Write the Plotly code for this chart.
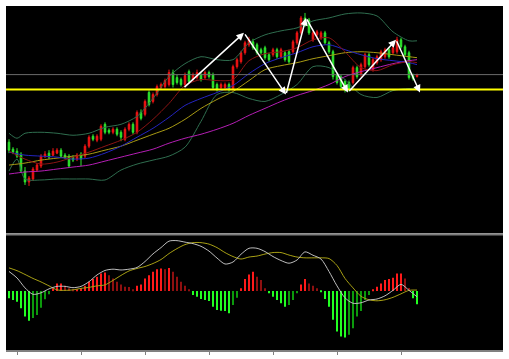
import plotly.graph_objects as go

# ---------------- data ----------------
candle_idx = list(range(103))
open_ = [97, 90, 88, 85, 68, 57, 60, 69, 73, 83, 86, 84, 86, 89, 84, 83, 82, 80, 85, 83,
         93, 103, 99, 100, 115, 109, 107, 110, 107, 100, 110, 115, 107, 127, 125, 147, 138, 145, 152, 153,
         155, 167, 162, 160, 155, 168, 160, 162, 165, 162, 167, 165, 155, 152, 152, 155, 150, 173, 178, 187,
         195, 198, 195, 190, 192, 185, 185, 190, 183, 187, 188, 188, 197, 207, 222, 220, 200, 205, 202, 207,
         197, 188, 165, 163, 158, 157, 157, 172, 165, 173, 185, 170, 177, 180, 183, 190, 187, 188, 200, 193,
         187, 164, 163]
close = [89, 87, 83, 68, 57, 61, 70, 74, 83, 85, 82, 88, 89, 83, 82, 73, 79, 84, 80, 93,
         102, 100, 103, 113, 107, 107, 110, 105, 102, 110, 115, 107, 127, 121, 138, 135, 145, 153, 155, 159,
         167, 155, 157, 155, 164, 158, 165, 167, 160, 167, 163, 152, 150, 155, 155, 150, 173, 180, 187, 197,
         200, 192, 187, 187, 182, 180, 190, 183, 190, 180, 178, 198, 207, 222, 215, 207, 207, 208, 207, 197,
         188, 163, 157, 153, 150, 150, 172, 163, 175, 185, 175, 180, 183, 188, 190, 183, 192, 200, 193, 185,
         162, 161, 165]
high = [100, 92, 91, 87, 72, 63, 72, 76, 85, 88, 89, 91, 91, 91, 86, 85, 84, 86, 87, 95,
        104, 105, 105, 115, 117, 111, 112, 112, 109, 112, 117, 117, 129, 130, 140, 149, 147, 155, 157, 161,
        170, 170, 165, 162, 167, 170, 167, 170, 167, 169, 169, 167, 157, 157, 157, 157, 175, 182, 189, 199,
        203, 201, 197, 192, 194, 187, 192, 192, 192, 189, 190, 200, 209, 224, 227, 222, 209, 210, 209, 209,
        199, 190, 167, 165, 160, 159, 174, 174, 177, 187, 187, 182, 185, 190, 192, 192, 194, 203, 202, 195,
        189, 166, 166]
low = [86, 85, 81, 66, 54, 53, 58, 67, 71, 81, 80, 83, 85, 81, 80, 71, 77, 78, 73, 81,
       91, 98, 97, 98, 105, 105, 105, 103, 98, 98, 108, 105, 105, 119, 123, 133, 136, 143, 150, 151,
       153, 152, 155, 153, 153, 156, 158, 160, 158, 160, 161, 150, 148, 150, 149, 148, 149, 171, 176, 185,
       193, 190, 185, 185, 180, 178, 183, 181, 181, 178, 176, 186, 195, 205, 213, 205, 198, 203, 200, 195,
       186, 160, 155, 150, 147, 148, 155, 161, 163, 171, 173, 168, 175, 178, 181, 181, 185, 186, 191, 183,
       160, 159, 162]

# Bollinger bands (bar index, price)
band_idx = [0, 2, 4, 8, 12, 16, 20, 24, 28, 32, 36, 40, 44, 48, 52, 56, 60, 64, 68, 72, 76,
            80, 84, 88, 92, 96, 100, 102]
boll_upper = [106, 101, 106, 107, 106, 104, 106, 112, 115, 123, 141, 163, 176, 183, 180, 180, 197, 205, 209, 212, 219,
              222, 226, 227, 224, 208, 199, 199]
boll_lower = [68, 80, 60, 59, 60, 60, 60, 59, 69, 75, 79, 83, 92, 118, 145, 147, 141, 138, 145, 155, 173,
              172, 160, 145, 142, 149, 151, 151]

# moving averages sampled every 4 bars
line_idx = [0, 4, 8, 12, 16, 20, 24, 28, 32, 36, 40, 44, 48, 52, 56, 60, 64, 68, 72, 76,
            80, 84, 88, 92, 96, 100, 102]
ma_short = [88, 80, 75, 77, 82, 87, 93, 99, 107, 120, 136, 154, 160, 159, 160, 179, 186, 188, 192, 200,
            202, 188, 172, 169, 175, 178, 177]
ma_mid = [87, 84, 83, 82, 80, 81, 86, 93, 102, 111, 122, 134, 141, 147, 154, 166, 176, 182, 187, 193,
          195, 190, 185, 181, 179, 177, 175]
ma_long = [74, 76, 79, 81, 83, 85, 89, 93, 99, 105, 111, 120, 131, 140, 148, 159, 170, 174, 177, 181,
           184, 187, 188, 187, 185, 183, 182]
ma_longest = [65, 67, 68, 70, 72, 74, 78, 82, 86, 90, 96, 101, 105, 110, 116, 124, 131, 138, 144, 149,
              155, 163, 168, 172, 176, 179, 180]

# reference levels
level_gray = 165
level_yellow = 150

# zig-zag drawing (bar index, price)
zig_idx = [43.5, 58.75, 69.25, 74.25, 84.75, 96.75, 102.75]
zig_price = [151, 207, 145, 222, 147, 200, 147]

# MACD
macd_idx = list(range(0, 103, 2))
dif = [19.7, 13.2, 3.2, -3.3, -1.8, 2.2, 4.7, 4.7, 3.4, 4.7, 9.4, 16.2, 20.7, 22.0, 21.2, 22.0, 23.7, 29.7,
       37.4, 43.7, 50.2, 50.7, 49.2, 47.7, 45.0, 40.2, 33.2, 27.2, 29.2, 37.0, 43.0, 43.0, 39.7, 34.7, 30.7,
       28.0, 31.2, 39.4, 36.0, 32.2, 19.7, 5.2, -6.8, -12.3, -11.8, -9.0, -8.0, -4.8, 0.7, 6.7, 0.7, -5.8]
dea = [23.3, 20.5, 16.7, 12.7, 9.2, 5.2, 1.2, 0.7, 1.2, 2.7, 3.7, 5.2, 6.2, 10.7, 15.7, 20.2, 22.7, 24.7,
       27.7, 31.7, 37.7, 42.7, 46.7, 48.7, 48.7, 47.2, 43.7, 38.7, 34.7, 32.2, 34.2, 35.2, 37.2, 38.7, 38.7,
       36.2, 34.2, 33.4, 33.4, 33.4, 32.7, 25.7, 12.7, 3.2, -5.3, -8.8, -9.8, -8.8, -6.3, -2.8, 0.7, 1.0]
macd_hist = [-7.3, -9, -10.7, -17.3, -25.7, -30, -27, -24, -16.7, -8.3, -3.3, 2.7, 7.7, 7.7, 5.3, 2.7, 1, 1.7,
             2.7, 5.3, 9.3, 12, 14.3, 17.7, 18.7, 16, 12.7, 9.3, 6.7, 4.3, 4, 1, 5.3, 6.7, 12.7, 16, 19.3,
             22, 22.7, 22, 23.3, 19.3, 14.3, 9.3, 5.3, 1, -4, -5.7, -8, -9, -10, -15.7, -19, -19.7, -20,
             -22.3, -14, -6.7, 2.7, 12, 16.7, 19.3, 14.3, 11, 2.7, -2.3, -5.7, -9, -12.3, -15.7, -14, -9,
             -2.3, 6.7, 12, 7.7, 5.3, 2.7, -1.3, -8, -15.7, -29, -40.7, -45.7, -46.7, -44, -37.3, -25.7,
             -20, -9, -4, 1, 4.3, 7.7, 11, 12, 13.3, 17.7, 17.7, 12.7, 3, -7.3, -13.3]

tick_idx = [2, 18, 34, 50, 66, 82, 98]

# ---------------- styles ----------------
UP = '#f01414'
DOWN = '#2ee82e'
hist_colors = []
for k, v in enumerate(macd_hist):
    prev = macd_hist[k - 1] if k > 0 else 0
    if v >= 0:
        hist_colors.append('#ff1a1a' if v >= prev else '#8e1010')
    else:
        hist_colors.append('#22ff22' if v <= prev else '#0c9a0c')

fig = go.Figure()

def add_line(xs, ys, color, yaxis='y', width=1):
    fig.add_trace(go.Scatter(x=xs, y=ys, mode='lines', line=dict(color=color, width=width, shape='spline', smoothing=0.8),
                             yaxis=yaxis, xaxis='x', hoverinfo='skip'))

add_line(band_idx, boll_upper, '#2f6e4f')
add_line(band_idx, boll_lower, '#2f6e4f')
add_line(line_idx, ma_longest, '#b41eb4')
add_line(line_idx, ma_long, '#a89a14')
add_line(line_idx, ma_mid, '#2424c0')
add_line(line_idx, ma_short, '#8c1414')

fig.add_trace(go.Candlestick(
    x=candle_idx, open=open_, high=high, low=low, close=close,
    increasing=dict(line=dict(color=UP, width=1), fillcolor=UP),
    decreasing=dict(line=dict(color=DOWN, width=1), fillcolor=DOWN),
    whiskerwidth=0, xaxis='x', yaxis='y', hoverinfo='skip'))

fig.add_trace(go.Bar(x=candle_idx, y=macd_hist, marker=dict(color=hist_colors, line=dict(width=0)),
                     width=0.45, xaxis='x', yaxis='y2', hoverinfo='skip'))
add_line(macd_idx, dea, '#a8a014', yaxis='y2')
add_line(macd_idx, dif, '#bdbdbd', yaxis='y2')

shapes = [
    dict(type='line', xref='paper', yref='y', x0=0, x1=1, y0=level_gray, y1=level_gray,
         line=dict(color='#6a6a6a', width=1), layer='above'),
    dict(type='line', xref='paper', yref='y', x0=0, x1=1, y0=level_yellow, y1=level_yellow,
         line=dict(color='#ffff00', width=2), layer='above'),
    dict(type='line', xref='paper', yref='paper', x0=0, x1=1, y0=0.3367, y1=0.3367,
         line=dict(color='#7d7d7d', width=2)),
]

annotations = []
for k in range(1, len(zig_idx)):
    annotations.append(dict(x=zig_idx[k], y=zig_price[k], ax=zig_idx[k - 1], ay=zig_price[k - 1],
                            xref='x', yref='y', axref='x', ayref='y', text='', showarrow=True,
                            arrowhead=2, arrowsize=1, arrowwidth=1.5, arrowcolor='#ffffff'))

fig.update_layout(
    width=509, height=359,
    margin=dict(l=6, r=6, t=6, b=7),
    paper_bgcolor='#ffffff', plot_bgcolor='#000000',
    showlegend=False, hovermode=False, boxgap=0.45,
    shapes=shapes, annotations=annotations,
    xaxis=dict(domain=[0, 1], range=[-0.75, 123.5], anchor='y2', showgrid=False, zeroline=False,
               showticklabels=False, ticks='outside', ticklen=3, tickwidth=1, tickcolor='#808080',
               tickmode='array', tickvals=tick_idx, showline=True, linecolor='#808080', linewidth=2,
               rangeslider=dict(visible=False), fixedrange=True),
    yaxis=dict(domain=[0.3396, 1], range=[5.5, 234], showgrid=False, zeroline=False,
               showticklabels=False, anchor='x', fixedrange=True),
    yaxis2=dict(domain=[0, 0.3338], range=[-59.3, 56.2], showgrid=False, zeroline=False,
                showticklabels=False, anchor='x', fixedrange=True),
)

fig.write_html('out.html', config={'displayModeBar': False},
               post_script="document.body.style.margin='0';document.body.style.overflow='hidden';")
